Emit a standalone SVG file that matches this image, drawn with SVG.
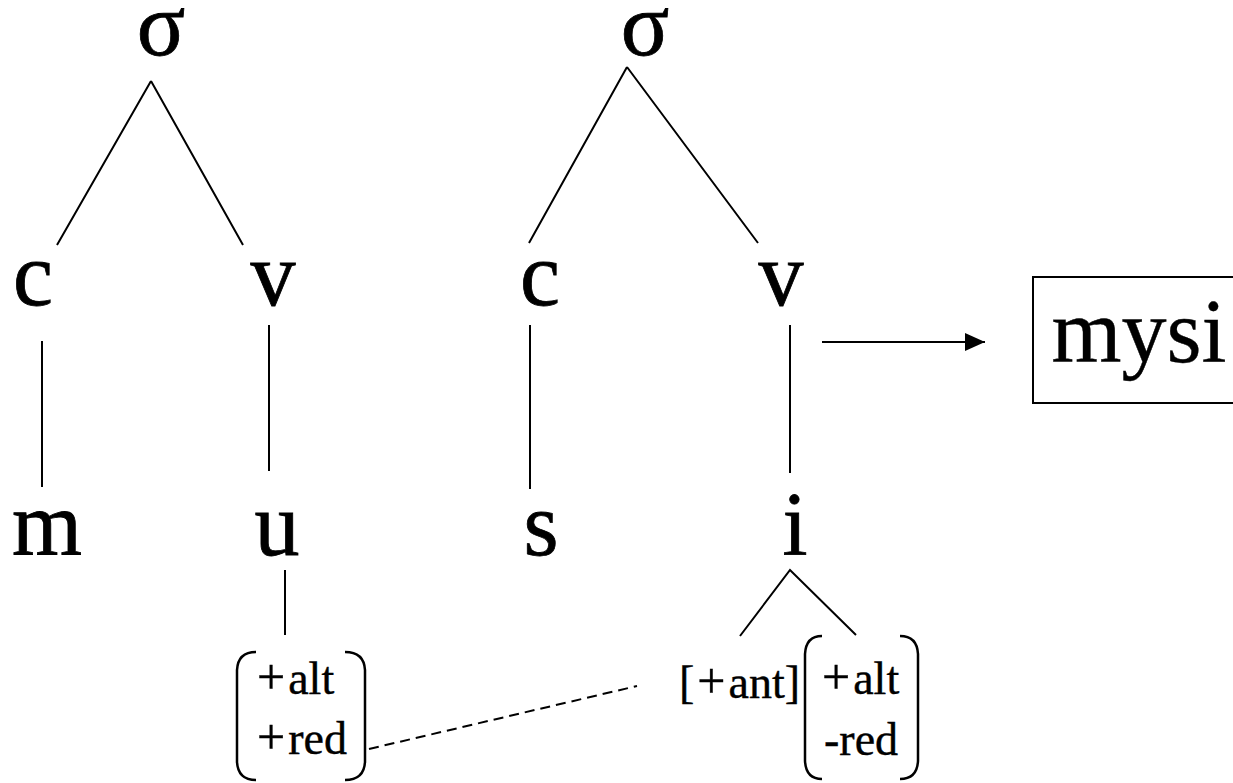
<svg xmlns="http://www.w3.org/2000/svg" width="1233" height="783" viewBox="0 0 1233 783">
<style>
.big{font-family:"Liberation Serif","Times New Roman",serif;font-size:90px;fill:#000;stroke:#000;stroke-width:0.8;text-anchor:middle}
.sm{font-family:"Liberation Serif","Times New Roman",serif;font-size:46px;fill:#000;stroke:#000;stroke-width:0.4}
.pl{font-size:50px}
.ln{stroke:#000;stroke-width:2;fill:none}
.br{stroke:#000;stroke-width:2.5;fill:none}
</style>
<defs>
<marker id="ah" markerWidth="20" markerHeight="18" refX="20" refY="9" orient="auto" markerUnits="userSpaceOnUse">
<path d="M0,0 L20,9 L0,18 Z" fill="#000"/>
</marker>
</defs>
<rect width="1233" height="783" fill="#fff"/>
<g id="connectors">
<path class="ln" d="M151,81 L57,245 M151,81 L243,245"/>
<path class="ln" d="M42,341 L42,487"/>
<path class="ln" d="M269,325 L269,471"/>
<path class="ln" d="M285,570 L285,635"/>
<path class="ln" d="M627,67 L529,243 M627,67 L758,243"/>
<path class="ln" d="M530,325 L530,489"/>
<path class="ln" d="M790,325 L790,473"/>
<path class="ln" d="M740,636 L790,570 L856,635"/>
<path class="ln" d="M822,342 L985,342" marker-end="url(#ah)"/>
<path class="ln" d="M369,749 L637,686" stroke-dasharray="10,6"/>
</g>
<g id="sigma1"><text class="big" x="161" y="55">σ</text></g>
<g id="c1"><text class="big" x="33" y="305">c</text></g>
<g id="v1"><text class="big" x="273" y="305">v</text></g>
<g id="m1"><text class="big" x="47" y="555">m</text></g>
<g id="u1"><text class="big" x="277" y="555">u</text></g>
<g id="sigma2"><text class="big" x="645" y="55">σ</text></g>
<g id="c2"><text class="big" x="540" y="305">c</text></g>
<g id="v2"><text class="big" x="781" y="305">v</text></g>
<g id="s2"><text class="big" x="541" y="555">s</text></g>
<g id="i2"><text class="big" x="795" y="555">i</text></g>
<g id="mysi">
<rect x="1033" y="277" width="210" height="126" fill="none" stroke="#000" stroke-width="2"/>
<text class="big" x="1139" y="362" style="stroke-width:0.4">mysi</text>
</g>
<g id="feat1">
<path class="br" d="M256,652 Q238,652 237,670 L237,762 Q238,780 256,780"/>
<path class="br" d="M345,652 Q364,652 365,670 L365,762 Q364,780 345,780"/>
<text class="sm" x="257" y="694"><tspan class="pl">+</tspan><tspan dx="3">alt</tspan></text>
<text class="sm" x="257" y="754"><tspan class="pl">+</tspan><tspan dx="3">red</tspan></text>
</g>
<g id="feat2">
<text class="sm" x="679" y="698">[<tspan dx="3" class="pl">+</tspan><tspan dx="3">ant</tspan>]</text>
<path class="br" d="M822,636 Q806,636 805,654 L805,761 Q806,779 822,779"/>
<path class="br" d="M900,636 Q917,636 918,654 L918,761 Q917,779 900,779"/>
<text class="sm" x="822" y="694"><tspan class="pl">+</tspan><tspan dx="3">alt</tspan></text>
<text class="sm" x="824" y="755">-red</text>
</g>
</svg>
